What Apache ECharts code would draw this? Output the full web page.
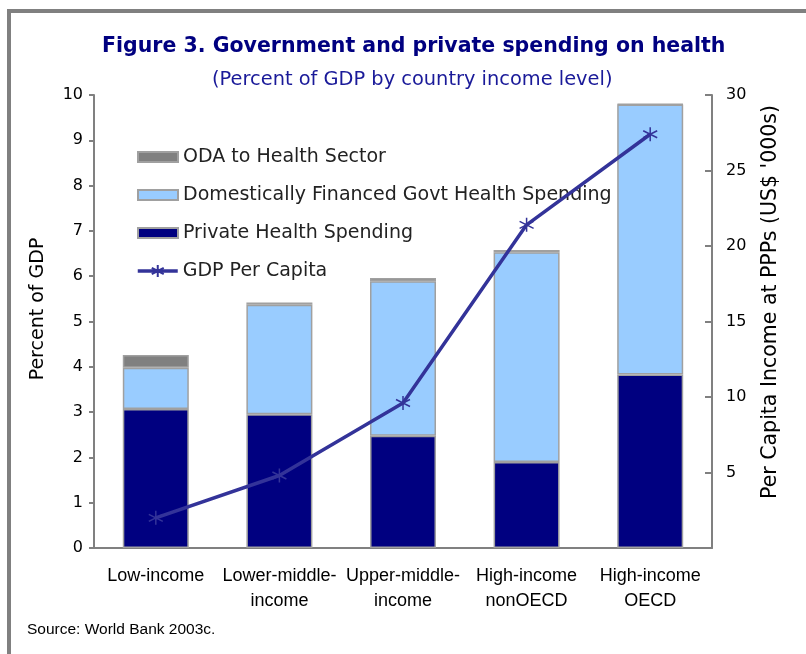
<!DOCTYPE html>
<html>
<head>
<meta charset="utf-8">
<script src="https://cdn.jsdelivr.net/npm/echarts@6/dist/echarts.min.js"></script>
<style>
html,body{margin:0;padding:0;background:#fff;}
#chart{width:806px;height:654px;}
</style>
</head>
<body>
<div id="chart"></div>
<script>
var categories = ['Low-income', 'Lower-middle-\nincome', 'Upper-middle-\nincome', 'High-income\nnonOECD', 'High-income\nOECD'];
var privateSpending = [3.07, 2.95, 2.48, 1.90, 3.83];
var govtSpending = [0.91, 2.42, 3.41, 4.63, 5.96];
var odaSpending = [0.28, 0.05, 0.07, 0.05, 0.01];
var gdpPerCapita = [2.0, 4.8, 9.6, 21.4, 27.4];
var leftTicks = [0, 10, 1];
var rightTicks = [0, 30, 5];

var chart = echarts.init(document.getElementById('chart'));
var barBorder = {borderColor: '#a0a0a0', borderWidth: 1.5};
var star = 'path://M10,0L10,20M1.34,5L18.66,15M1.34,15L18.66,5';
var legendText = {fontFamily: 'DejaVu Sans', fontSize: 19, color: '#222222', lineHeight: 20};
var option = {
  animation: false,
  backgroundColor: '#ffffff',
  title: [
    {text: 'Figure 3. Government and private spending on health', left: 97, top: 31,
     textStyle: {fontFamily: 'DejaVu Sans', fontWeight: 'bold', fontSize: 20.5, color: '#000080'}},
    {text: '(Percent of GDP by country income level)', left: 207, top: 65,
     textStyle: {fontFamily: 'DejaVu Sans', fontWeight: 'normal', fontSize: 19.4, color: '#1a1a99'}}
  ],
  grid: {left: 94, right: 94, top: 95, bottom: 106},
  legend: [
    {orient: 'vertical', left: 132, top: 142, icon: 'rect',
     itemWidth: 40, itemHeight: 10, itemGap: 18,
     textStyle: legendText,
     data: ['ODA to Health Sector', 'Domestically Financed Govt Health Spending', 'Private Health Spending']},
    {orient: 'vertical', left: 131, top: 256,
     itemWidth: 40, itemHeight: 15,
     lineStyle: {width: 3.5, color: '#333399'},
     textStyle: legendText,
     data: ['GDP Per Capita']}
  ],
  xAxis: {
    type: 'category', data: categories,
    axisLine: {lineStyle: {color: '#808080', width: 2}},
    axisTick: {show: false},
    axisLabel: {fontFamily: 'Liberation Sans', fontSize: 18, color: '#000', lineHeight: 25, margin: 16, interval: 0}
  },
  yAxis: [
    {type: 'value', min: leftTicks[0], max: leftTicks[1], interval: leftTicks[2],
     axisLine: {show: true, lineStyle: {color: '#808080', width: 2}},
     axisTick: {show: true, length: 5, lineStyle: {color: '#808080', width: 2}},
     splitLine: {show: false},
     axisLabel: {fontFamily: 'DejaVu Sans', fontSize: 16, color: '#000', margin: 11}},
    {type: 'value', min: rightTicks[0], max: rightTicks[1], interval: rightTicks[2],
     axisLine: {show: true, lineStyle: {color: '#808080', width: 2}},
     axisTick: {show: true, inside: true, length: 7, lineStyle: {color: '#808080', width: 2}},
     splitLine: {show: false},
     axisLabel: {fontFamily: 'DejaVu Sans', fontSize: 16, color: '#000', margin: 14,
       formatter: function (v) { return v === 0 ? '' : String(v); }}}
  ],
  series: [
    {name: 'Private Health Spending', type: 'bar', stack: 's', data: privateSpending, barWidth: 66,
     itemStyle: Object.assign({color: '#000080'}, barBorder)},
    {name: 'Domestically Financed Govt Health Spending', type: 'bar', stack: 's', data: govtSpending,
     itemStyle: Object.assign({color: '#99ccff'}, barBorder)},
    {name: 'ODA to Health Sector', type: 'bar', stack: 's', data: odaSpending,
     itemStyle: Object.assign({color: '#808080'}, barBorder)},
    {name: 'GDP Per Capita', type: 'line', yAxisIndex: 1, data: gdpPerCapita,
     symbol: star, symbolSize: 14,
     lineStyle: {color: '#333399', width: 3.5},
     itemStyle: {color: '#333399', borderColor: '#333399', borderWidth: 1.5}, z: 5}
  ],
  graphic: [
    {type: 'rect', shape: {x: 9, y: 11, width: 830, height: 700}, style: {fill: 'none', stroke: '#808080', lineWidth: 4}, silent: true},
    {type: 'text', x: 38, y: 309, rotation: Math.PI / 2,
     style: {text: 'Percent of GDP', fontFamily: 'DejaVu Sans', fontSize: 19, fill: '#000', align: 'center', verticalAlign: 'middle'}},
    {type: 'text', x: 771, y: 302, rotation: Math.PI / 2,
     style: {text: "Per Capita Income at PPPs (US$ '000s)", fontFamily: 'DejaVu Sans', fontSize: 20.5, fill: '#000', align: 'center', verticalAlign: 'middle'}},
    {type: 'text', x: 27, y: 630,
     style: {text: 'Source: World Bank 2003c.', fontFamily: 'Liberation Sans', fontSize: 15.5, fill: '#000', align: 'left', verticalAlign: 'middle'}}
  ]
};
chart.setOption(option);
</script>
</body>
</html>
